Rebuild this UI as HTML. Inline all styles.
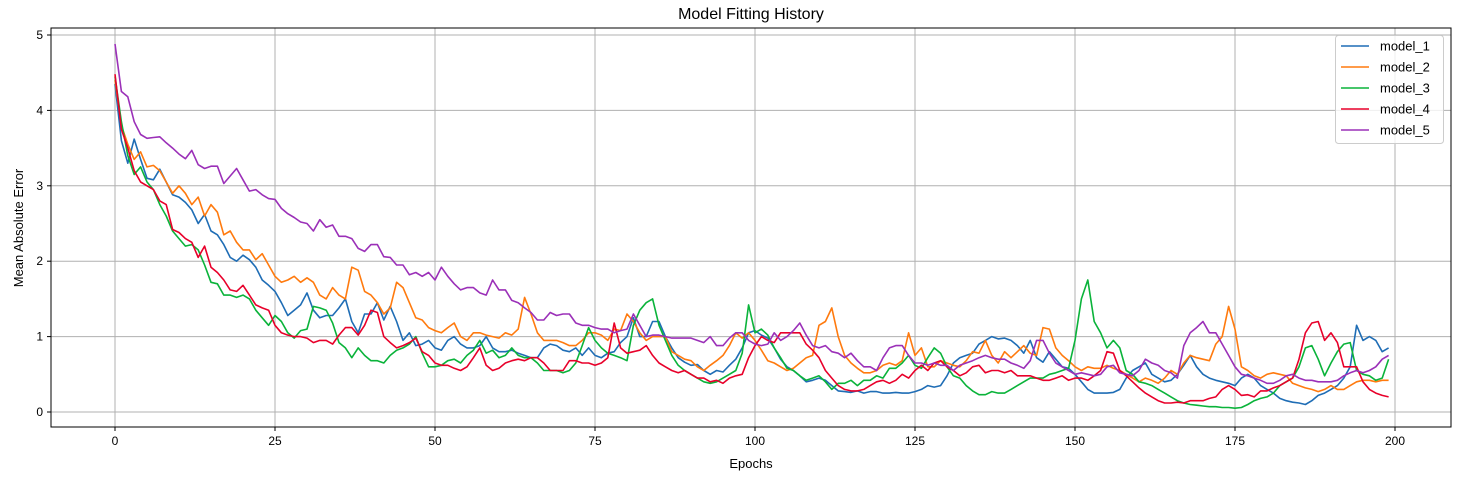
<!DOCTYPE html>
<html><head><meta charset="utf-8"><style>
html,body{margin:0;padding:0;background:#fff;}
svg{display:block;font-family:"Liberation Sans","DejaVu Sans",sans-serif;}
</style></head><body>
<svg id="chart" width="1470" height="477" viewBox="0 0 1470 477" xmlns="http://www.w3.org/2000/svg">
<rect width="1470" height="477" fill="#fff"/>
<g id="grid"></g><g id="axes"></g><g id="series"></g><g id="legend"></g>
<text x="751" y="19" text-anchor="middle" font-size="16" fill="#000">Model Fitting History</text>
<text x="751" y="468" text-anchor="middle" font-size="13" fill="#000">Epochs</text>
<text x="0" y="0" transform="translate(23,228) rotate(-90)" text-anchor="middle" font-size="13" fill="#000">Mean Absolute Error</text>
</svg>
<script>
const seriesNames=["model_1","model_2","model_3","model_4","model_5"];
const seriesColors=["#1f6db5","#ff7a0e","#0ab33a","#e8002a","#9b30b8"];
const xTicks=[0,25,50,75,100,125,150,175,200];
const yTicks=[0,1,2,3,4,5];
const model1=[4.35,3.6,3.3,3.62,3.35,3.1,3.08,3.22,3.05,2.88,2.85,2.78,2.68,2.5,2.62,2.4,2.35,2.22,2.05,2.0,2.08,2.02,1.92,1.75,1.68,
1.6,1.45,1.28,1.35,1.42,1.58,1.35,1.25,1.28,1.28,1.38,1.5,1.2,1.05,1.3,1.3,1.45,1.22,1.4,1.2,0.95,1.05,0.88,0.9,0.95,
0.85,0.82,0.95,1.0,0.9,0.85,0.85,0.88,1.0,0.85,0.8,0.8,0.82,0.78,0.75,0.72,0.72,0.85,0.9,0.88,0.82,0.8,0.85,0.75,0.85,
0.75,0.72,0.78,0.8,0.92,1.0,1.25,1.0,1.0,1.2,1.2,1.0,0.85,0.72,0.66,0.62,0.63,0.55,0.5,0.55,0.53,0.62,0.7,0.85,1.05,
1.08,1.02,0.98,0.85,0.7,0.6,0.55,0.48,0.4,0.42,0.45,0.42,0.35,0.28,0.27,0.26,0.28,0.25,0.27,0.27,0.25,0.25,0.26,0.25,0.25,
0.27,0.3,0.35,0.33,0.35,0.48,0.65,0.72,0.75,0.78,0.9,0.95,1.0,0.97,0.98,0.95,0.88,0.78,0.95,0.72,0.66,0.8,0.7,0.6,0.58,
0.5,0.4,0.3,0.25,0.25,0.25,0.26,0.3,0.45,0.55,0.6,0.65,0.5,0.45,0.4,0.42,0.5,0.62,0.75,0.6,0.5,0.45,0.42,0.4,0.38,
0.35,0.45,0.5,0.45,0.35,0.3,0.25,0.18,0.15,0.13,0.12,0.1,0.15,0.22,0.25,0.3,0.35,0.45,0.6,1.15,0.95,1.0,0.95,0.8,0.85];
const model2=[4.4,3.8,3.55,3.35,3.45,3.25,3.27,3.2,3.05,2.9,3.0,2.9,2.75,2.85,2.6,2.75,2.65,2.35,2.4,2.25,2.15,2.15,2.02,2.1,1.95,
1.8,1.72,1.75,1.8,1.72,1.78,1.72,1.55,1.5,1.65,1.55,1.5,1.92,1.88,1.6,1.55,1.45,1.3,1.38,1.72,1.65,1.45,1.25,1.22,1.12,
1.08,1.05,1.12,1.18,1.0,0.95,1.05,1.05,1.02,1.0,0.98,1.05,1.02,1.1,1.52,1.3,1.05,0.95,0.95,0.95,0.92,0.88,0.88,0.95,1.05,
1.05,1.02,0.95,1.1,1.08,1.3,1.2,1.05,0.95,1.0,1.0,1.0,0.8,0.75,0.7,0.68,0.6,0.55,0.62,0.68,0.75,0.88,1.05,0.98,1.05,
0.95,0.82,0.68,0.65,0.6,0.55,0.58,0.65,0.72,0.75,1.15,1.2,1.38,1.0,0.75,0.65,0.58,0.52,0.52,0.55,0.62,0.65,0.62,0.68,1.05,
0.75,0.85,0.6,0.6,0.68,0.65,0.62,0.6,0.68,0.8,0.78,0.95,0.75,0.65,0.8,0.72,0.8,0.88,0.78,0.75,1.12,1.1,0.85,0.75,0.68,
0.6,0.55,0.6,0.58,0.58,0.62,0.58,0.55,0.5,0.45,0.4,0.45,0.42,0.38,0.45,0.55,0.5,0.65,0.75,0.72,0.7,0.68,0.9,1.0,1.4,
1.1,0.6,0.55,0.48,0.45,0.5,0.52,0.5,0.48,0.38,0.35,0.32,0.3,0.27,0.3,0.35,0.3,0.3,0.35,0.4,0.42,0.42,0.4,0.42,0.42];
const model3=[4.45,3.85,3.4,3.15,3.25,3.05,2.95,2.75,2.6,2.4,2.3,2.2,2.22,2.15,1.95,1.72,1.7,1.55,1.55,1.52,1.55,1.5,1.35,1.25,1.15,
1.28,1.2,1.05,0.98,1.08,1.1,1.4,1.38,1.35,1.18,0.92,0.85,0.72,0.85,0.75,0.68,0.68,0.65,0.75,0.82,0.85,0.9,1.0,0.78,0.6,
0.6,0.62,0.68,0.7,0.65,0.75,0.82,0.95,0.78,0.82,0.72,0.75,0.85,0.75,0.72,0.72,0.65,0.55,0.55,0.55,0.52,0.55,0.65,0.88,1.12,
0.95,0.85,0.78,0.75,0.72,0.68,1.15,1.35,1.45,1.5,1.15,0.95,0.75,0.62,0.55,0.5,0.45,0.4,0.38,0.4,0.45,0.5,0.55,0.78,1.42,
1.05,1.1,1.02,0.85,0.72,0.58,0.55,0.48,0.42,0.45,0.48,0.4,0.3,0.38,0.38,0.42,0.35,0.42,0.42,0.48,0.45,0.58,0.58,0.65,0.75,
0.62,0.58,0.72,0.85,0.78,0.6,0.48,0.45,0.35,0.28,0.23,0.23,0.27,0.25,0.25,0.3,0.35,0.4,0.45,0.45,0.45,0.5,0.52,0.55,0.58,
0.95,1.5,1.75,1.2,1.05,0.85,0.95,0.85,0.55,0.5,0.4,0.38,0.35,0.3,0.25,0.2,0.15,0.12,0.1,0.09,0.08,0.07,0.07,0.06,0.06,
0.05,0.06,0.1,0.15,0.18,0.2,0.25,0.35,0.4,0.45,0.6,0.85,0.88,0.7,0.48,0.65,0.8,0.9,0.92,0.55,0.5,0.48,0.42,0.45,0.7];
const model4=[4.48,3.75,3.5,3.2,3.05,3.0,2.95,2.8,2.75,2.42,2.38,2.3,2.25,2.05,2.2,1.92,1.85,1.75,1.62,1.6,1.68,1.55,1.42,1.38,1.35,
1.15,1.05,1.02,1.0,1.0,0.98,0.92,0.95,0.95,0.9,1.02,1.12,1.12,1.02,1.15,1.35,1.32,1.0,0.92,0.85,0.88,0.92,0.98,0.8,0.75,
0.65,0.62,0.62,0.58,0.55,0.6,0.72,0.85,0.62,0.55,0.58,0.65,0.68,0.7,0.68,0.72,0.72,0.65,0.55,0.55,0.55,0.68,0.68,0.65,0.65,
0.62,0.65,0.72,1.18,0.85,0.78,0.8,0.82,0.88,0.75,0.65,0.6,0.55,0.52,0.55,0.5,0.45,0.45,0.4,0.42,0.38,0.45,0.48,0.5,0.72,
0.88,1.0,0.95,0.92,1.05,1.05,1.05,1.05,0.9,0.82,0.72,0.55,0.45,0.35,0.3,0.28,0.28,0.3,0.35,0.4,0.42,0.38,0.42,0.5,0.45,
0.55,0.62,0.55,0.65,0.68,0.6,0.55,0.48,0.52,0.6,0.62,0.52,0.55,0.55,0.52,0.55,0.48,0.48,0.48,0.45,0.42,0.42,0.45,0.48,0.42,
0.45,0.45,0.42,0.48,0.55,0.8,0.78,0.55,0.48,0.4,0.32,0.25,0.2,0.15,0.12,0.12,0.13,0.12,0.15,0.15,0.15,0.18,0.2,0.3,0.35,
0.3,0.22,0.23,0.2,0.28,0.28,0.32,0.35,0.4,0.45,0.7,1.05,1.18,1.2,0.95,1.05,0.92,0.6,0.6,0.6,0.4,0.3,0.25,0.22,0.2];
const model5=[4.88,4.25,4.18,3.85,3.68,3.63,3.64,3.65,3.57,3.5,3.42,3.36,3.47,3.28,3.23,3.26,3.26,3.03,3.13,3.23,3.08,2.93,2.95,2.88,2.83,
2.82,2.7,2.63,2.58,2.52,2.5,2.4,2.55,2.45,2.48,2.33,2.33,2.3,2.17,2.13,2.22,2.22,2.06,2.05,1.95,1.95,1.82,1.85,1.8,1.85,
1.75,1.92,1.8,1.7,1.62,1.65,1.65,1.58,1.55,1.75,1.62,1.62,1.48,1.45,1.38,1.32,1.22,1.22,1.32,1.28,1.3,1.3,1.18,1.15,1.15,
1.12,1.1,1.1,1.05,1.08,1.1,1.3,1.15,1.0,1.02,1.02,1.0,0.98,0.98,0.98,0.98,0.95,0.92,1.0,0.88,0.88,0.98,1.05,1.05,0.95,
0.9,0.88,0.9,1.05,0.95,1.0,1.08,1.18,1.02,0.88,0.85,0.88,0.8,0.78,0.72,0.78,0.68,0.6,0.6,0.55,0.72,0.85,0.88,0.88,0.75,
0.65,0.65,0.62,0.65,0.62,0.62,0.55,0.62,0.65,0.68,0.72,0.75,0.72,0.7,0.7,0.65,0.62,0.58,0.68,0.95,0.95,0.78,0.65,0.6,0.55,
0.5,0.52,0.5,0.48,0.5,0.6,0.62,0.52,0.5,0.48,0.55,0.7,0.65,0.62,0.55,0.52,0.45,0.88,1.05,1.12,1.2,1.05,1.05,0.9,0.75,
0.6,0.5,0.48,0.45,0.42,0.38,0.38,0.42,0.48,0.5,0.45,0.42,0.42,0.4,0.4,0.4,0.42,0.48,0.52,0.55,0.52,0.55,0.6,0.7,0.75];
const allSeries=[model1,model2,model3,model4,model5];

const NS="http://www.w3.org/2000/svg";
const PL=51,PR=1451,PT=28,PB=427;
function xScale(v){return 115+v*6.4;}
function yScale(v){return 412-v*75.4;}
function mk(tag,attrs,parent){const e=document.createElementNS(NS,tag);for(const k in attrs)e.setAttribute(k,attrs[k]);parent.appendChild(e);return e;}
const grid=document.getElementById('grid'),axes=document.getElementById('axes'),ser=document.getElementById('series'),leg=document.getElementById('legend');
xTicks.forEach(t=>{const x=xScale(t);
 const g=mk('line',{x1:x,x2:x,y1:PT,y2:PB,stroke:'#b0b0b0','stroke-width':1},grid);
 
 
 mk('line',{x1:x,x2:x,y1:PB,y2:PB+4,stroke:'#000'},axes);
 const l=mk('text',{x:x,y:PB+18,'text-anchor':'middle','font-size':12,fill:'#000'},axes);l.textContent=t;
 
 
});
yTicks.forEach(t=>{const y=yScale(t);
 const g=mk('line',{x1:PL,x2:PR,y1:y,y2:y,stroke:'#b0b0b0','stroke-width':1},grid);
 
 
 mk('line',{x1:PL-4,x2:PL,y1:y,y2:y,stroke:'#000'},axes);
 const l=mk('text',{x:PL-8,y:y+4,'text-anchor':'end','font-size':12,fill:'#000'},axes);l.textContent=t;
 
 
});
const frame=mk('rect',{x:PL,y:PT,width:PR-PL,height:PB-PT,fill:'none',stroke:'#000','stroke-width':1},axes);


allSeries.forEach((arr,i)=>{
 const d=arr.map((v,j)=>(j?'L':'M')+xScale(j).toFixed(1)+','+yScale(v).toFixed(1)).join('');
 const p=mk('path',{d:d,fill:'none',stroke:seriesColors[i],'stroke-width':1.6,'stroke-linejoin':'round'},ser);
 
 
});
const lb=mk('rect',{x:1335.5,y:35.5,width:108,height:108,rx:3,fill:'#fff','fill-opacity':0.8,stroke:'#ccc'},leg);


seriesNames.forEach((n,i)=>{const y=46+i*21;
 const g=mk('g',{},leg);
 
 
 mk('line',{x1:1341,x2:1369,y1:y,y2:y,stroke:seriesColors[i],'stroke-width':1.6},g);
 const t=mk('text',{x:1380,y:y+4.5,'font-size':13,fill:'#000'},g);t.textContent=n;
});
</script>
</body></html>
